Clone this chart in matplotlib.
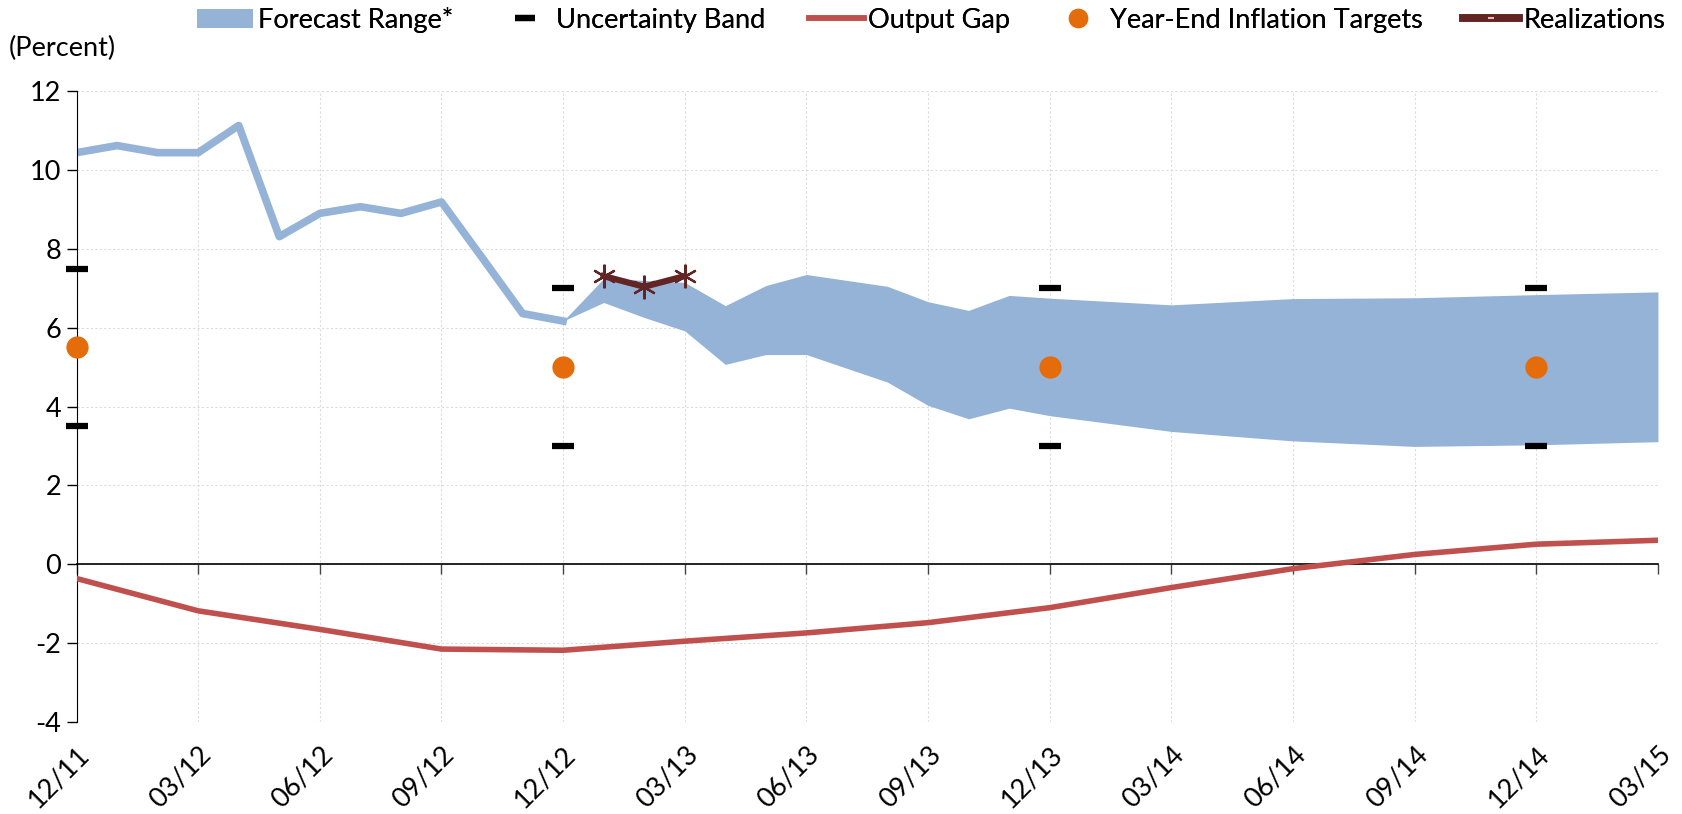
import numpy as np
import matplotlib
matplotlib.use("Agg")
import matplotlib.pyplot as plt
from matplotlib.lines import Line2D
from matplotlib.patches import Patch

plt.rcParams['font.family'] = ['Lato', 'DejaVu Sans']
plt.rcParams['axes.unicode_minus'] = False

# months counted from 12/11 (=0) to 03/15 (=39)
tick_pos = list(range(0, 40, 3))
tick_labels = ['12/11', '03/12', '06/12', '09/12', '12/12', '03/13', '06/13',
               '09/13', '12/13', '03/14', '06/14', '09/14', '12/14', '03/15']

# past inflation (single line up to 12/12)
hist_x = list(range(0, 13))
hist_y = [10.44, 10.62, 10.44, 10.44, 11.13, 8.31, 8.90, 9.07, 8.90, 9.19, 7.78, 6.36, 6.17]

# forecast range
band_x = [12, 13, 14, 15, 16, 17, 18, 19, 20, 21, 22, 23, 24, 27, 30, 33, 36, 39]
band_hi = [6.17, 7.25, 7.20, 7.15, 6.56, 7.07, 7.35, 7.20, 7.05, 6.66, 6.44, 6.82, 6.75, 6.58, 6.74, 6.76, 6.84, 6.91]
band_lo = [6.17, 6.64, 6.26, 5.92, 5.07, 5.32, 5.32, 4.97, 4.62, 4.03, 3.69, 3.96, 3.77, 3.37, 3.13, 2.99, 3.03, 3.11]

# realizations
real_x = [13, 14, 15]
real_y = [7.31, 7.04, 7.31]

# output gap (quarterly)
gap_x = tick_pos
gap_y = [-0.36, -1.18, -1.65, -2.15, -2.18, -1.95, -1.74, -1.48, -1.10, -0.59, -0.11, 0.25, 0.51, 0.61]

# year-end targets and uncertainty band
target_x = [0, 12, 24, 36]
target_y = [5.5, 5.0, 5.0, 5.0]
unc_hi = [7.5, 7.0, 7.0, 7.0]
unc_lo = [3.5, 3.0, 3.0, 3.0]

blue = '#95B3D7'
red = '#C0504D'
orange = '#E46C0A'
dark = '#632523'
fs = 19.5

fig = plt.figure(figsize=(16.82, 8.14), dpi=100)
ax = fig.add_axes([0.0455, 0.113, 0.9402, 0.775])

ax.fill_between(band_x, band_lo, band_hi, color=blue, lw=0, zorder=2)
ax.plot(hist_x, hist_y, color=blue, lw=5.5, zorder=2)
ax.plot(gap_x, gap_y, color=red, lw=4, zorder=3)
ax.plot(real_x, real_y, color=dark, lw=4.5, marker=(6, 2, 0), ms=17, mew=1.6,
        zorder=4)
ax.plot(target_x, unc_hi, ls='none', marker='_', ms=16, mew=4.5, color='black',
        zorder=5, clip_on=False)
ax.plot(target_x, unc_lo, ls='none', marker='_', ms=16, mew=4.5, color='black',
        zorder=5, clip_on=False)
ax.plot(target_x, target_y, ls='none', marker='o', ms=15, color=orange, mec=orange,
        zorder=5, clip_on=False)

ax.set_xlim(0, 39)
ax.set_ylim(-4, 12)
ax.set_yticks(np.arange(-4, 13, 2))
ax.set_xticks(tick_pos)
ax.grid(True, color='#DCDCDC', ls=(0, (2, 2)), lw=0.8, zorder=0)
ax.set_axisbelow(True)

for s in ['top', 'right']:
    ax.spines[s].set_visible(False)
ax.spines['bottom'].set_position(('data', 0))
ax.spines['bottom'].set_color('black')
ax.spines['left'].set_color('black')
ax.spines['bottom'].set_linewidth(1.2)
ax.tick_params(axis='x', labelbottom=False, direction='out', length=7, width=1, color='#444444')
ax.tick_params(axis='y', labelsize=fs, length=7, width=1, pad=4)

sec = ax.secondary_xaxis('bottom')
sec.set_xticks(tick_pos)
sec.set_xticklabels(tick_labels, rotation=45, ha='right', va='top', rotation_mode='anchor',
                    fontsize=fs)
sec.tick_params(length=0, pad=14)
sec.spines['bottom'].set_visible(False)

fig.text(0.005, 0.940, '(Percent)', fontsize=fs, ha='left', va='center')

# legend entries laid out one by one, like the original
entries = [
    (Patch(facecolor=blue, edgecolor='none'), 'Forecast Range*', 0.117, 2.07, 0.18),
    (Line2D([], [], ls='none', marker='_', ms=14, mew=4.5, color='black'),
     'Uncertainty Band', 0.299, 1.6, 0.37),
    (Line2D([], [], color=red, lw=4), 'Output Gap', 0.481, 2.03, 0.15),
    (Line2D([], [], ls='none', marker='o', ms=13, color=orange),
     'Year-End Inflation Targets', 0.628, 1.6, 0.4),
    (Line2D([], [], color=dark, lw=5.5, marker='_', ms=4, mew=1.5, mec='#E6B9B8'),
     'Realizations', 0.870, 2.07, 0.15),
]
for h, lab, x0, hl, tp in entries:
    leg = fig.legend([h], [lab], loc='center left', bbox_to_anchor=(x0, 0.975),
                     frameon=False, fontsize=fs, handlelength=hl, handletextpad=tp,
                     borderaxespad=0, borderpad=0, numpoints=1)
    fig.add_artist(leg)

fig.savefig('out.png', dpi=100)
